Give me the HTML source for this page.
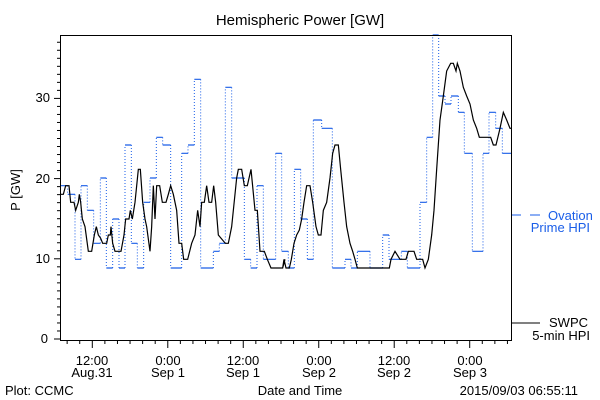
<!DOCTYPE html>
<html><head><meta charset="utf-8"><style>
body{margin:0;background:#fff;}
svg{display:block;font-family:"Liberation Sans",sans-serif;}
</style></head><body>
<svg id="s" width="600" height="400" xmlns="http://www.w3.org/2000/svg">
<rect width="600" height="400" fill="#fff"/>
<text x="300" y="25" text-anchor="middle" font-size="15">Hemispheric Power [GW]</text>
<text transform="translate(20,190) rotate(-90)" text-anchor="middle" font-size="13">P [GW]</text>
<g font-size="13" text-anchor="end">
<text x="48" y="343">0</text><text x="50" y="263">10</text><text x="50" y="183">20</text><text x="50" y="102">30</text>
</g>
<g font-size="13" text-anchor="middle">
<text x="92" y="365">12:00</text><text x="92" y="377">Aug.31</text>
<text x="168" y="365">0:00</text><text x="168" y="377">Sep 1</text>
<text x="243" y="365">12:00</text><text x="243" y="377">Sep 1</text>
<text x="319" y="365">0:00</text><text x="319" y="377">Sep 2</text>
<text x="394" y="365">12:00</text><text x="394" y="377">Sep 2</text>
<text x="470" y="365">0:00</text><text x="470" y="377">Sep 3</text>
<text x="300" y="395">Date and Time</text>
</g>
<text x="5" y="395" font-size="13">Plot: CCMC</text>
<text x="578" y="395" font-size="13" text-anchor="end">2015/09/03 06:55:11</text>
<g font-size="13" fill="#1a5ee8">
<text x="548" y="220">Ovation</text><text x="590" y="232" text-anchor="end">Prime HPI</text>
</g>
<line x1="512" y1="215" x2="521" y2="215" stroke="#1a5ee8"/>
<line x1="530" y1="215" x2="540" y2="215" stroke="#1a5ee8"/>
<text x="588" y="327" font-size="13" text-anchor="end">SWPC</text>
<text x="590" y="340" font-size="13" text-anchor="end">5-min HPI</text>
<line x1="512" y1="323" x2="540" y2="323" stroke="#000"/>
<g id="ax" stroke="#000" fill="none"></g>
<path id="bh" stroke="#1a5ee8" stroke-width="1.2" fill="none"/>
<path id="bv" stroke="#1a5ee8" stroke-width="1" stroke-dasharray="1,2" fill="none"/>
<path id="k" stroke="#000" stroke-width="1.2" fill="none"/>
<rect x="60.5" y="35.5" width="451" height="305" fill="none" stroke="#000"/>
</svg>
<script>
var ax=document.getElementById('ax'),h='';
for(var v=0;v<=38;v++){var y=339-v*8.02;if(y<36)break;h+='<line x1="'+(v%10==0?54:57)+'" y1="'+y+'" x2="60" y2="'+y+'"/>';}
for(var i=-3;i<40;i++){var x=92.3+i*12.58;if(x<61||x>511)continue;h+='<line x1="'+x+'" y1="341" x2="'+x+'" y2="'+(i%6==0?348:344)+'"/>';}
ax.innerHTML=h;
function c1(p){return [55+p[0]/3,30+p[1]/3];}
function c2(p){return [280+p[0]/3,30+p[1]/3];}
var b1=[[17,467],[38,493],[60,688],[78,467],[97,541],[116,640],[136,444],[154,714],[173,567],[192,714],[210,345],[229,640],[247,714],[266,517],[285,444],[304,322],[323,345],[347,714],[380,370],[399,345],[418,148],[437,714],[475,664],[493,640],[511,172],[530,444],[568,688],[587,714],[606,467],[625,688],[662,370]].map(c1);
var b2=[[5,664],[25,714],[43,418],[62,567],[82,688],[100,270],[125,295],[157,714],[195,688],[213,714],[232,664],[270,714],[308,615],[327,688],[364,664],[382,714],[420,517],[440,322],[458,15],[476,198],[495,222],[513,198],[535,247],[553,370],[577,664],[609,370],[627,247],[647,295],[667,370]].map(c2);
var b=b1.concat(b2);b.push([511,b[b.length-1][1]]);
var dh='',dv='';
for(var i=0;i<b.length-1;i++){dh+='M'+b[i][0]+' '+b[i][1]+'H'+b[i+1][0];if(i<b.length-2)dv+='M'+b[i+1][0]+' '+b[i][1]+'V'+b[i+1][1];}
document.getElementById('bh').setAttribute('d',dh);
document.getElementById('bv').setAttribute('d',dv);
var k1=[[17,493],[25,493],[32,467],[42,467],[47,517],[57,517],[62,541],[70,517],[73,493],[77,517],[82,567],[90,590],[100,664],[110,664],[118,615],[124,590],[130,615],[137,625],[143,640],[155,640],[160,615],[166,615],[168,590],[173,640],[180,664],[198,664],[207,615],[212,567],[222,567],[226,541],[232,567],[240,517],[250,418],[256,418],[263,517],[270,567],[275,590],[285,664],[290,590],[295,467],[300,567],[305,467],[314,467],[322,517],[333,517],[340,493],[347,467],[355,493],[365,541],[372,640],[380,640],[386,688],[398,688],[410,640],[420,615],[428,541],[435,590],[440,517],[448,517],[455,467],[462,517],[470,517],[476,467],[482,517],[490,615],[511,640],[520,640],[530,590],[545,444],[550,418],[560,418],[568,467],[577,467],[588,418],[600,541],[607,541],[615,664],[628,664],[637,688],[648,714],[683,714],[690,688]].map(c1);
var k2=[[8,714],[12,688],[18,714],[28,714],[34,688],[42,640],[50,615],[58,600],[65,567],[72,517],[80,467],[90,467],[98,517],[108,590],[115,615],[123,615],[130,541],[140,517],[150,444],[158,370],[165,345],[175,345],[182,418],[192,517],[200,590],[210,640],[218,664],[225,688],[232,714],[328,714],[333,688],[345,664],[360,688],[378,688],[385,664],[402,664],[410,688],[428,688],[435,714],[445,688],[455,615],[462,541],[470,418],[480,270],[490,198],[500,123],[512,100],[520,100],[528,123],[532,100],[540,123],[550,172],[560,198],[570,222],[580,270],[590,295],[598,322],[632,322],[640,345],[648,345],[660,295],[670,247],[680,270],[690,295],[695,295]].map(c2);
var k=k1.concat(k2),dk='M'+k[0][0]+' '+k[0][1];
for(var i=1;i<k.length;i++)dk+='L'+k[i][0]+' '+k[i][1];
document.getElementById('k').setAttribute('d',dk);
</script>
</body></html>
